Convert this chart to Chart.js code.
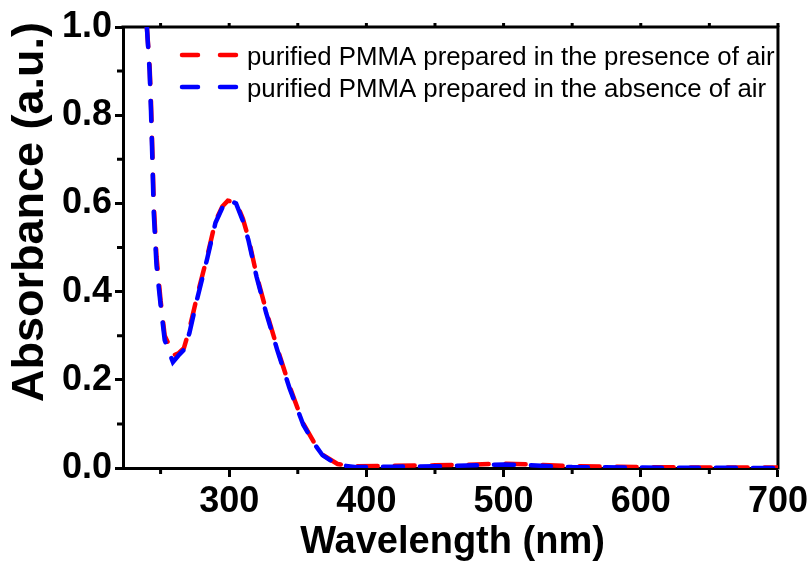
<!DOCTYPE html>
<html>
<head>
<meta charset="utf-8">
<script src="https://cdn.jsdelivr.net/npm/chart.js@4.4.1/dist/chart.umd.min.js"></script>
<style>
  html, body { margin: 0; padding: 0; background: #fff; }
  #wrap { width: 811px; height: 562px; }
</style>
</head>
<body>
<div id="wrap"><canvas id="uv-chart" width="811" height="562"></canvas></div>
<script>
// wavelength (nm) shared by both spectra
const wavelength = [240, 242, 243, 244, 245, 247, 250, 253, 256, 259, 263, 267, 271, 277, 284, 290, 295, 299, 305, 310, 314, 320, 327, 335, 344, 354, 362, 368, 379, 393, 420, 450, 480, 500, 520, 550, 600, 650, 700];

// purified PMMA prepared in the presence of air
const airPresent = [1.0, 0.91, 0.83, 0.72, 0.60, 0.48, 0.38, 0.30, 0.28, 0.255, 0.26, 0.272, 0.315, 0.395, 0.48, 0.56, 0.593, 0.606, 0.603, 0.565, 0.522, 0.437, 0.356, 0.272, 0.185, 0.101, 0.057, 0.03, 0.009, 0.004, 0.005, 0.006, 0.008, 0.010, 0.008, 0.004, 0.002, 0.001, 0.001];

// purified PMMA prepared in the absence of air
const airAbsent = [1.0, 0.90, 0.81, 0.70, 0.58, 0.46, 0.37, 0.29, 0.265, 0.24, 0.255, 0.268, 0.306, 0.388, 0.475, 0.556, 0.59, 0.608, 0.60, 0.56, 0.517, 0.433, 0.351, 0.268, 0.181, 0.098, 0.055, 0.029, 0.007, 0.002, 0.003, 0.004, 0.006, 0.008, 0.006, 0.002, 0.001, 0.0005, 0];

const seriesLabels = ["purified PMMA prepared in the presence of air", "purified PMMA prepared in the absence of air"];

// tick labels
const xMajor = [300, 400, 500, 600, 700];
const xMinor = [250, 350, 450, 550, 650];
const yMajor = [0.0, 0.2, 0.4, 0.6, 0.8, 1.0];
const yMinor = [0.1, 0.3, 0.5, 0.7, 0.9];

const FONT = "'Liberation Sans', Arial, sans-serif";

function pts(ys) {
  return wavelength.map((x, i) => ({ x: x, y: ys[i] }));
}

// box, minor ticks, axis titles and legend
const frame = {
  id: 'frame',
  beforeDatasetsDraw(chart) {
    const { ctx, chartArea: a, scales } = chart;
    ctx.save();
    ctx.strokeStyle = '#000';
    ctx.lineWidth = 3;
    ctx.beginPath();
    ctx.moveTo(a.left - 1.5, a.top);
    ctx.lineTo(a.right, a.top);
    ctx.lineTo(a.right, a.bottom + 1.5);
    ctx.stroke();
    ctx.beginPath();
    xMinor.forEach(v => {
      const px = scales.x.getPixelForValue(v);
      ctx.moveTo(px, a.bottom);
      ctx.lineTo(px, a.bottom + 6);
    });
    xMajor.concat(xMinor).forEach(v => {
      const px = scales.x.getPixelForValue(v);
      ctx.moveTo(px, a.top);
      ctx.lineTo(px, a.top - 4);
    });
    yMinor.forEach(v => {
      const py = scales.y.getPixelForValue(v);
      ctx.moveTo(a.left, py);
      ctx.lineTo(a.left - 6, py);
    });
    ctx.stroke();
    ctx.restore();
  },
  afterDraw(chart) {
    const { ctx, chartArea: a } = chart;
    ctx.save();
    ctx.fillStyle = '#000';
    // x title
    ctx.font = "bold 38px " + FONT;
    ctx.textAlign = 'center';
    ctx.textBaseline = 'alphabetic';
    ctx.fillText("Wavelength (nm)", (a.left + a.right) / 2 + 2, 553);
    // y title
    ctx.save();
    ctx.translate(43, 212);
    ctx.rotate(-Math.PI / 2);
    ctx.font = "bold 45px " + FONT;
    ctx.fillText("Absorbance (a.u.)", 0, 0);
    ctx.restore();
    // legend
    const rows = [55, 87];
    chart.data.datasets.forEach((ds, i) => {
      const y = rows[i];
      ctx.strokeStyle = ds.borderColor;
      ctx.lineWidth = 4.5;
      ctx.lineCap = 'round';
      ctx.beginPath();
      ctx.moveTo(182, y); ctx.lineTo(198, y);
      ctx.moveTo(220, y); ctx.lineTo(236, y);
      ctx.stroke();
      ctx.font = "25.8px " + FONT;
      ctx.textAlign = 'left';
      ctx.fillStyle = '#000';
      ctx.fillText(seriesLabels[i], 247, y + 10);
    });
    ctx.restore();
  }
};

new Chart(document.getElementById("uv-chart"), {
  type: 'line',
  data: {
    datasets: [
      {
        label: seriesLabels[0],
        data: pts(airPresent),
        borderColor: '#ff0000',
        borderWidth: 4.5,
        borderDash: [20, 17],
        borderCapStyle: 'round',
        pointRadius: 0,
        tension: 0,
        order: 1
      },
      {
        label: seriesLabels[1],
        data: pts(airAbsent),
        borderColor: '#0000ff',
        borderWidth: 4.5,
        borderDash: [20, 17],
        borderCapStyle: 'round',
        pointRadius: 0,
        tension: 0,
        order: 0
      }
    ]
  },
  options: {
    responsive: false,
    animation: false,
    devicePixelRatio: 1,
    layout: { padding: { top: 27, right: 32, left: 0, bottom: 0 } },
    plugins: { legend: { display: false }, tooltip: { enabled: false } },
    scales: {
      x: {
        type: 'linear',
        min: 222.6,
        max: 700,
        afterBuildTicks: s => { s.ticks = xMajor.map(v => ({ value: v })); },
        afterFit: s => { s.height = 94; },
        ticks: {
          autoSkip: false,
          maxRotation: 0,
          padding: 3,
          color: '#000',
          font: { family: FONT, weight: 'bold', size: 36 },
          callback: v => String(v)
        },
        grid: { drawOnChartArea: false, drawTicks: true, tickLength: 9, tickWidth: 3, tickColor: '#000' },
        border: { display: true, color: '#000', width: 3 }
      },
      y: {
        type: 'linear',
        min: 0,
        max: 1,
        afterBuildTicks: s => { s.ticks = yMajor.map(v => ({ value: v })); },
        afterFit: s => { s.width = 123; },
        ticks: {
          autoSkip: false,
          padding: 3,
          color: '#000',
          font: { family: FONT, weight: 'bold', size: 36 },
          callback: v => v.toFixed(1)
        },
        grid: { drawOnChartArea: false, drawTicks: true, tickLength: 8, tickWidth: 3, tickColor: '#000' },
        border: { display: true, color: '#000', width: 3 }
      }
    }
  },
  plugins: [frame]
});
</script>
</body>
</html>
